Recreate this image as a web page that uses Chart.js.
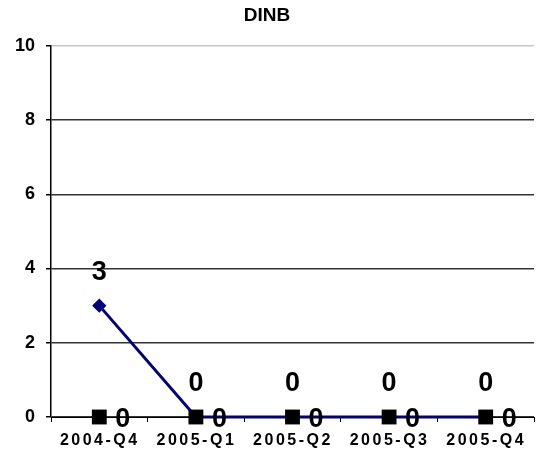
<!DOCTYPE html>
<html>
<head>
<meta charset="utf-8">
<script src="https://cdn.jsdelivr.net/npm/chart.js@4/dist/chart.umd.min.js"></script>
<style>
  body { margin: 0; background: #fff; }
</style>
</head>
<body>
<canvas id="chart" width="538" height="452"></canvas>
<script>
// Chart data
const quarters = ['2004-Q4', '2005-Q1', '2005-Q2', '2005-Q3', '2005-Q4'];
const lineValues = [3, 0, 0, 0, 0];
const squareValues = [0, 0, 0, 0, 0];
const yTicks = [0, 2, 4, 6, 8, 10];

const fontFamily = '"Liberation Sans", Arial, sans-serif';

// Draws the value labels and the spaced-out quarter labels
const labelPlugin = {
  id: 'labelPlugin',
  afterDatasetsDraw(chart) {
    const ctx = chart.ctx;
    ctx.save();
    ctx.fillStyle = '#000';
    ctx.font = 'bold 27px ' + fontFamily;
    ctx.textBaseline = 'middle';

    // line series: label above each point
    const lineMeta = chart.getDatasetMeta(1);
    ctx.textAlign = 'center';
    lineMeta.data.forEach((pt, i) => {
      ctx.fillText(String(lineValues[i]), pt.x, pt.y - 33);
    });

    // square series: label to the right
    const sqMeta = chart.getDatasetMeta(0);
    ctx.textAlign = 'left';
    sqMeta.data.forEach((pt, i) => {
      ctx.fillText(String(squareValues[i]), pt.x + 16, pt.y + 3);
    });

    // x axis labels with letter spacing
    const xScale = chart.scales.x;
    ctx.font = 'bold 16px ' + fontFamily;
    ctx.textAlign = 'center';
    ctx.letterSpacing = '2.5px';
    quarters.forEach((q, i) => {
      ctx.fillText(q, xScale.getPixelForValue(i) + 0.5, 441);
    });
    ctx.restore();
  }
};

new Chart(document.getElementById('chart'), {
  type: 'line',
  data: {
    labels: quarters,
    datasets: [
      {
        label: 'squares',
        data: squareValues,
        showLine: false,
        pointStyle: 'rect',
        pointRadius: 10.5,
        pointBackgroundColor: '#000',
        pointBorderColor: '#000',
        pointBorderWidth: 0,
        clip: false,
        order: 0
      },
      {
        label: 'DINB',
        data: lineValues,
        borderColor: '#000080',
        borderWidth: 3,
        pointStyle: 'rectRot',
        pointRadius: 5,
        pointBackgroundColor: '#000080',
        pointBorderColor: '#000080',
        tension: 0,
        clip: false,
        order: 1
      }
    ]
  },
  options: {
    responsive: false,
    animation: false,
    layout: { autoPadding: false, padding: { left: 0, right: 4, top: 0, bottom: 0 } },
    plugins: {
      legend: { display: false },
      tooltip: { enabled: false },
      title: {
        display: true,
        text: 'DINB',
        color: '#000',
        font: { family: fontFamily, size: 19, weight: 'bold' },
        padding: { top: 4, bottom: 19 }
      }
    },
    scales: {
      x: {
        type: 'category',
        offset: true,
        afterFit(scale) { scale.height = 35; },
        grid: {
          offset: true,
          drawOnChartArea: false,
          drawTicks: true,
          tickLength: 5,
          color: '#000'
        },
        border: { color: '#000', width: 1 },
        ticks: { display: false }
      },
      y: {
        min: 0,
        max: 10,
        afterFit(scale) { scale.width = 51; },
        afterBuildTicks(scale) {
          scale.ticks = yTicks.map(v => ({ value: v }));
        },
        grid: {
          color: (c) => c.tick && c.tick.value === 10 ? '#c8c8c8' : '#333',
          tickColor: '#000',
          tickLength: 5,
          lineWidth: 1.5
        },
        border: { color: '#000', width: 1.5 },
        ticks: {
          color: '#000',
          padding: 11,
          font: { family: fontFamily, size: 18, weight: 'bold' }
        }
      }
    }
  },
  plugins: [labelPlugin]
});
</script>
</body>
</html>
